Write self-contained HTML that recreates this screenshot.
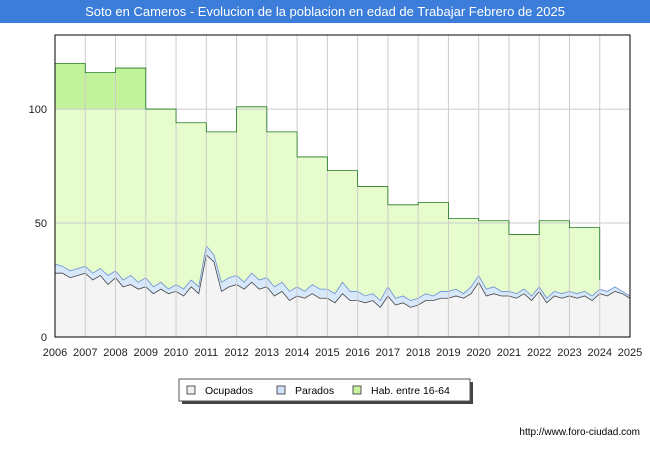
<!DOCTYPE html>
<html><head><meta charset="utf-8"><style>
body{margin:0;width:650px;height:450px;background:#fff;font-family:"Liberation Sans",sans-serif;overflow:hidden;position:relative}
#title{position:absolute;left:0;top:0;width:650px;height:23px;background:#3b7dd8;color:#fff;font-size:13px;text-align:center;line-height:23px}
#footer{position:absolute;right:10px;top:427px;font-size:10px;color:#000}
</style></head><body>
<div id="title">Soto en Cameros - Evolucion de la poblacion en edad de Trabajar Febrero de 2025</div>
<svg id="chart" width="650" height="450" style="position:absolute;left:0;top:0"></svg>
<div id="footer">http://www.foro-ciudad.com</div>
<script>
const years=[2006,2007,2008,2009,2010,2011,2012,2013,2014,2015,2016,2017,2018,2019,2020,2021,2022,2023,2024,2025];
const habValues=[120,116,118,100,94,90,101,90,79,73,66,58,59,52,51,45,51,48];
const paradosValues=[32,31,29,30,31,28,30,27,29,25,27,24,26,22,24,21,23,21,25,22,40,36,24,26,27,24,28,25,26,22,24,20,22,20,23,21,21,19,24,20,20,18,19,16,22,17,18,16,17,19,18,20,20,21,19,22,27,21,22,20,20,19,21,18,22,17,20,19,20,19,20,18,21,20,22,20,18];
const ocupadosValues=[28,28,26,27,28,25,27,23,26,22,23,21,22,19,21,19,20,18,22,19,36,33,20,22,23,21,24,21,22,18,20,16,18,17,19,17,17,15,19,16,16,15,16,13,18,14,15,13,14,16,16,17,17,18,17,19,24,18,19,18,18,17,19,16,20,15,18,17,18,17,18,16,19,18,20,19,17];
const yTicks=[0,50,100];
const L=55,R=630,T=35,B=337;
const x=v=>L+(v-2006)/(2025-2006)*(R-L);
const y=v=>B-v/132.5*(B-T);
const svg=document.getElementById('chart');
const NS='http://www.w3.org/2000/svg';
function mk(t,a){const e=document.createElementNS(NS,t);for(const k in a)e.setAttribute(k,a[k]);svg.appendChild(e);return e;}
// hab step area
let d='M'+x(2006)+','+y(0);
habValues.forEach((v,i)=>{d+=' L'+x(2006+i)+','+y(v)+' L'+x(2007+i)+','+y(v);});
d+=' L'+x(2006+habValues.length)+','+y(25)+' L'+x(2006+habValues.length)+','+y(0)+'Z';
const hab=mk('path',{d:d,fill:'#e6fccc'});


habValues.slice(0,3).forEach((v,i)=>{if(v>100){const r=mk('rect',{x:x(2006+i),y:y(v),width:x(2007+i)-x(2006+i),height:y(100)-y(v),fill:'#c2f29a'});

}});
function area(vals,fill,stroke,name){const n=vals.length;let p='M'+x(2006)+','+y(0);
vals.forEach((v,i)=>{p+=' L'+x(2006+i*19/(n-1))+','+y(v);});
p+=' L'+x(2025)+','+y(0)+'Z';
const a=mk('path',{d:p,fill:fill});


let q='';vals.forEach((v,i)=>{q+=(i?' L':'M')+x(2006+i*19/(n-1))+','+y(v);});
const l=mk('path',{d:q,fill:'none',stroke:stroke,'stroke-width':0.8});

}
area(paradosValues,'#d8e8fb','#6a8fd0','parados');
area(ocupadosValues,'#f4f4f4','#444','ocupados');
// grid over areas
years.forEach(yr=>{const l=mk('line',{x1:x(yr),x2:x(yr),y1:T,y2:B,stroke:'#ccc','stroke-width':1});


const t=mk('text',{x:x(yr),y:356,'font-size':11,'text-anchor':'middle',fill:'#222'});t.textContent=yr;

});
yTicks.forEach(v=>{const l=mk('line',{x1:L,x2:R,y1:y(v),y2:y(v),stroke:'#ccc'});


const t=mk('text',{x:47,y:y(v)+4,'font-size':11,'text-anchor':'end',fill:'#222'});t.textContent=v;

});
let dl='M'+x(2006)+','+y(habValues[0]);
habValues.forEach((v,i)=>{dl+=' L'+x(2006+i)+','+y(v)+' L'+x(2007+i)+','+y(v);});
dl+=' L'+x(2006+habValues.length)+','+y(25);
const habl=mk('path',{d:dl,fill:'none',stroke:'#1e7a1e','stroke-width':0.8});


const ax=mk('rect',{x:L,y:T,width:R-L,height:B-T,fill:'none',stroke:'#000'});


// legend
const sh=mk('rect',{x:182,y:382,width:291,height:22,fill:'#444'});


const lb=mk('rect',{x:179,y:379,width:291,height:22,fill:'#fff',stroke:'#555'});


[['Ocupados','#eee',187],['Parados','#cfe3fb',277],['Hab. entre 16-64','#c8f5a0',353]].forEach(([t,c,lx])=>{
const s=mk('rect',{x:lx,y:386,width:8,height:8,fill:c,stroke:'#555'});


const tx=mk('text',{x:lx+18,y:394,'font-size':10.5});tx.textContent=t;

});
</script>
</body></html>
